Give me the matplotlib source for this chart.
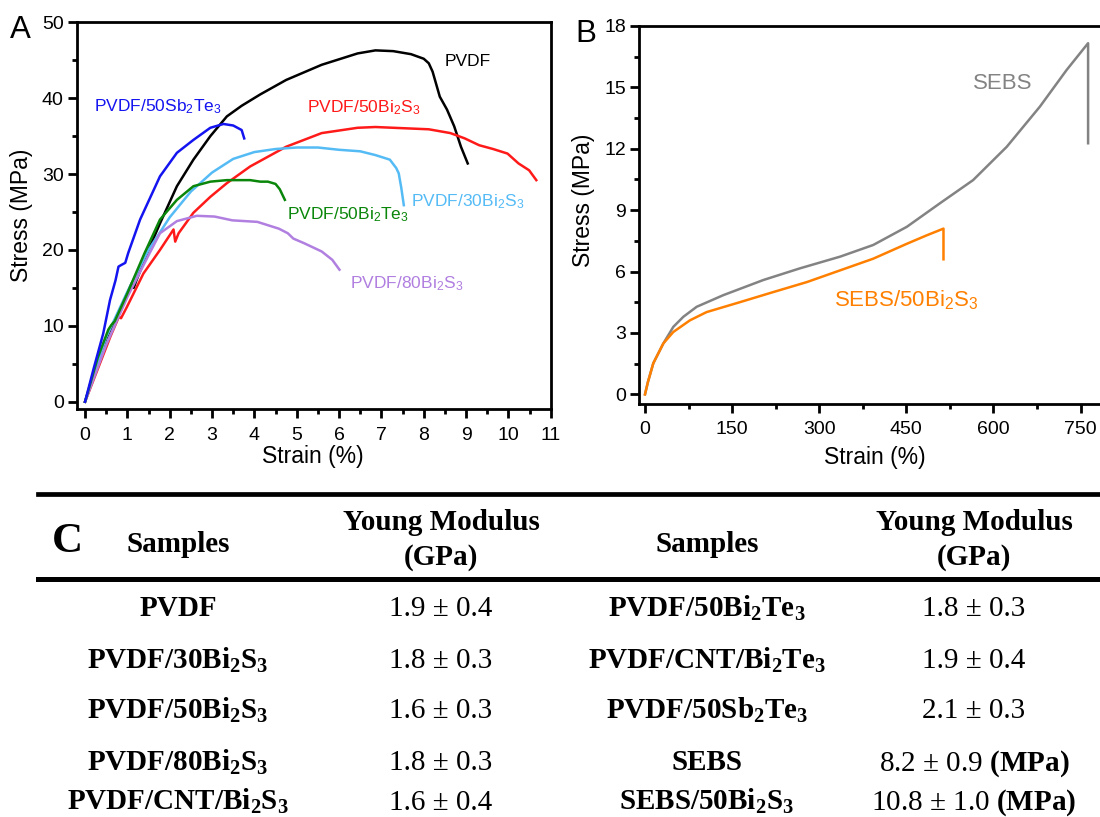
import matplotlib
matplotlib.use('Agg')
import matplotlib.pyplot as plt
from matplotlib.lines import Line2D
from matplotlib.ticker import MultipleLocator

plt.rcParams['font.family'] = 'Liberation Sans'
plt.rcParams['mathtext.fontset'] = 'custom'
plt.rcParams['mathtext.default'] = 'regular'
plt.rcParams['mathtext.rm'] = 'Liberation Sans'
plt.rcParams['mathtext.bf'] = 'Liberation Serif:bold'

# ---- panel A : PVDF composites, stress-strain ----
pvdf_x = [0, 0.5, 1.0, 1.1, 1.15, 1.2, 1.5, 1.77, 2.17, 2.56, 2.96, 3.35, 3.7, 4.14, 4.75, 5.59,
          6.44, 6.86, 7.28, 7.70, 8.0, 8.12, 8.21, 8.38, 8.55, 8.72, 8.88, 9.04]
pvdf_y = [0, 8.3, 14.3, 15.6, 15.0, 15.8, 20.0, 23.5, 28.4, 31.9, 35.0, 37.6, 39.0, 40.5, 42.4, 44.4,
          45.9, 46.3, 46.2, 45.8, 45.2, 44.6, 43.5, 40.2, 38.5, 36.3, 33.6, 31.4]

sbte_x = [0, 0.2, 0.43, 0.59, 0.72, 0.79, 0.85, 0.95, 1.02, 1.3, 1.77, 2.17, 2.56, 2.96, 3.27, 3.5, 3.7, 3.76]
sbte_y = [0, 4.3, 9.0, 13.4, 16.0, 17.8, 18.0, 18.3, 19.6, 24.0, 29.7, 32.8, 34.5, 36.1, 36.6, 36.4, 35.8, 34.7]

bis50_x = [0, 0.3, 0.6, 0.8, 0.85, 0.99, 1.38, 1.77, 2.09, 2.13, 2.21, 2.56, 2.96, 3.35, 3.9, 4.75, 5.59,
           6.44, 6.86, 7.7, 8.12, 8.63, 8.97, 9.31, 9.64, 9.98, 10.24, 10.49, 10.66]
bis50_y = [0, 4.3, 8.6, 11.2, 11.0, 12.5, 16.9, 20.0, 22.7, 21.1, 22.2, 24.9, 27.0, 28.8, 31.0, 33.6, 35.4,
           36.1, 36.2, 36.0, 35.9, 35.4, 34.7, 33.8, 33.3, 32.7, 31.4, 30.5, 29.2]

bis30_x = [0, 0.5, 1.0, 1.5, 2.0, 2.5, 3.0, 3.5, 4.0, 4.5, 5.0, 5.5, 6.0, 6.5, 6.86, 7.2, 7.35, 7.41, 7.47, 7.53]
bis30_y = [0, 8.5, 14.5, 20.0, 24.3, 27.7, 30.2, 32.0, 32.9, 33.3, 33.5, 33.5, 33.2, 33.0, 32.5, 31.9, 30.8, 30.1, 28.2, 25.9]

bite_x = [0, 0.3, 0.55, 0.62, 0.7, 1.0, 1.4, 1.77, 2.17, 2.56, 2.96, 3.35, 3.9, 4.14, 4.32, 4.5, 4.6, 4.72]
bite_y = [0, 5.8, 9.5, 10.1, 10.6, 14.3, 19.5, 24.0, 26.6, 28.4, 29.0, 29.2, 29.2, 29.0, 29.0, 28.7, 28.0, 26.6]

bis80_x = [0, 0.5, 1.0, 1.5, 1.77, 2.17, 2.64, 3.06, 3.48, 4.07, 4.58, 4.79, 4.92, 5.17, 5.59, 5.84, 6.01]
bis80_y = [0, 7.5, 13.8, 19.3, 22.2, 23.8, 24.5, 24.4, 23.9, 23.7, 22.8, 22.2, 21.5, 20.9, 19.8, 18.7, 17.4]

# ---- panel B : SEBS ----
sebs_x = [0, 5, 14.3, 31.6, 48.8, 66, 89, 135, 204, 267, 336, 393, 451, 508, 565, 623, 680, 726, 763, 763]
sebs_y = [0, 0.6, 1.52, 2.49, 3.30, 3.79, 4.28, 4.85, 5.59, 6.16, 6.73, 7.30, 8.19, 9.34, 10.47, 12.10,
          14.06, 15.85, 17.16, 12.27]

sebsbis_x = [0, 5, 14.3, 31.6, 48.8, 77.5, 106, 164, 221, 279, 336, 393, 451, 485, 514, 514]
sebsbis_y = [0, 0.6, 1.52, 2.49, 3.05, 3.62, 4.02, 4.51, 5.0, 5.49, 6.06, 6.63, 7.36, 7.77, 8.1, 6.6]

# ---- table C ----
samples_left = ['PVDF', 'PVDF/30Bi$_2$S$_3$', 'PVDF/50Bi$_2$S$_3$', 'PVDF/80Bi$_2$S$_3$', 'PVDF/CNT/Bi$_2$S$_3$']
mod_left = [1.9, 1.8, 1.6, 1.8, 1.6]
err_left = [0.4, 0.3, 0.3, 0.3, 0.4]
samples_right = ['PVDF/50Bi$_2$Te$_3$', 'PVDF/CNT/Bi$_2$Te$_3$', 'PVDF/50Sb$_2$Te$_3$', 'SEBS', 'SEBS/50Bi$_2$S$_3$']
mod_right = [1.8, 1.9, 2.1, 8.2, 10.8]
err_right = [0.3, 0.4, 0.3, 0.9, 1.0]
unit_right = ['', '', '', 'MPa', 'MPa']

W, H = 1100, 817
fig = plt.figure(figsize=(11, 8.17), dpi=100)

def style(ax):
    for s in ax.spines.values():
        s.set_linewidth(2)
    ax.tick_params(which='both', direction='out', width=2, labelsize=14, top=False, right=False)
    ax.tick_params(which='major', length=6.5, pad=3)
    ax.tick_params(which='minor', length=3.5)
    ax.tick_params(axis='x', which='major', pad=6)

# panel A
axA = fig.add_axes([77 / W, 1 - 409.3 / H, 473.7 / W, 387 / H])
lw = 1.8
axA.plot(pvdf_x, pvdf_y, color='black', lw=lw)
axA.plot(bis50_x, bis50_y, color='#ff1a1a', lw=lw)
axA.plot(bis30_x, bis30_y, color='#55bbf5', lw=lw)
axA.plot(bis80_x, bis80_y, color='#b07fe0', lw=lw)
axA.plot(bite_x, bite_y, color='#0a860a', lw=lw)
axA.plot(sbte_x, sbte_y, color='#1414f0', lw=lw)
axA.set_xlim(-0.19, 11)
axA.set_ylim(-1.0, 50)
axA.xaxis.set_major_locator(MultipleLocator(1))
axA.xaxis.set_minor_locator(MultipleLocator(0.5))
axA.yaxis.set_major_locator(MultipleLocator(10))
axA.yaxis.set_minor_locator(MultipleLocator(5))
style(axA)
axA.set_xlabel('Strain (%)', fontsize=16.5, va='top')
axA.set_ylabel('Stress (MPa)', fontsize=16.5)
axA.xaxis.set_label_coords(0.498, -0.092)
axA.yaxis.set_label_coords(-0.093, 0.502)
lab = 12.5
axA.text(8.5, 44.8, 'PVDF', color='black', fontsize=lab, va='center')
axA.text(0.2, 38.9, 'PVDF/50Sb$_2$Te$_3$', color='#1414f0', fontsize=lab, va='center')
axA.text(5.24, 38.8, 'PVDF/50Bi$_2$S$_3$', color='#ff1a1a', fontsize=lab, va='center')
axA.text(7.70, 26.4, 'PVDF/30Bi$_2$S$_3$', color='#55bbf5', fontsize=lab, va='center')
axA.text(4.76, 24.6, 'PVDF/50Bi$_2$Te$_3$', color='#0a860a', fontsize=lab, va='center')
axA.text(6.25, 15.6, 'PVDF/80Bi$_2$S$_3$', color='#b07fe0', fontsize=lab, va='center')

# panel B
axB = fig.add_axes([639.3 / W, 1 - 404 / H, 464.7 / W, 378 / H])
axB.plot(sebs_x, sebs_y, color='#838383', lw=lw)
axB.plot(sebsbis_x, sebsbis_y, color='#ff8000', lw=lw)
axB.set_xlim(-9.8, 790.4)
axB.set_ylim(-0.47, 18)
axB.xaxis.set_major_locator(MultipleLocator(150))
axB.xaxis.set_minor_locator(MultipleLocator(75))
axB.yaxis.set_major_locator(MultipleLocator(3))
axB.yaxis.set_minor_locator(MultipleLocator(1.5))
style(axB)
axB.set_xlabel('Strain (%)', fontsize=16.5, va='top')
axB.set_ylabel('Stress (MPa)', fontsize=16.5)
axB.xaxis.set_label_coords(0.5066, -0.111)
axB.yaxis.set_label_coords(-0.0964, 0.5376)
axB.text(565, 15.2, 'SEBS', color='#838383', fontsize=16, va='center')
axB.text(325, 4.6, 'SEBS/50Bi$_2$S$_3$', color='#ff8000', fontsize=16, va='center')

fig.text(10 / W, 1 - 38 / H, 'A', fontsize=22.5, va='baseline')
fig.text(575 / W, 1 - 42 / H, 'B', fontsize=22.5, va='baseline')

# table C
serif = 'Liberation Serif'
fig.add_artist(Line2D([38 / W, 1], [1 - 494 / H] * 2, color='black', lw=3.4))
fig.add_artist(Line2D([38 / W, 1], [1 - 579 / H] * 2, color='black', lw=3.6))
fig.text(52 / W, 1 - 552 / H, 'C', fontsize=31, fontweight='bold', family=serif, va='baseline')

col_x = [178, 441, 707, 974]
hsize = 21
for cx in (col_x[0], col_x[2]):
    fig.text(cx / W, 1 - 552 / H, 'Samples', fontsize=hsize, fontweight='bold', family=serif,
             ha='center', va='baseline')
for cx in (col_x[1], col_x[3]):
    fig.text(cx / W, 1 - 530 / H, 'Young Modulus', fontsize=hsize, fontweight='bold', family=serif,
             ha='center', va='baseline')
    fig.text(cx / W, 1 - 565 / H, '(GPa)', fontsize=hsize, fontweight='bold', family=serif,
             ha='center', va='baseline')

row_base = [616.5, 668.5, 718.5, 770.5, 810]
rsize = 21
for i, yb in enumerate(row_base):
    fy = 1 - yb / H
    fig.text(col_x[0] / W, fy, samples_left[i], fontsize=rsize, fontweight='bold', family=serif,
             ha='center', va='baseline')
    fig.text(col_x[1] / W, fy, '%.1f \u00b1 %.1f' % (mod_left[i], err_left[i]), fontsize=rsize,
             family=serif, ha='center', va='baseline')
    fig.text(col_x[2] / W, fy, samples_right[i], fontsize=rsize, fontweight='bold', family=serif,
             ha='center', va='baseline')
    s = '%.1f \u00b1 %.1f' % (mod_right[i], err_right[i])
    if unit_right[i]:
        s += r' $\mathbf{(%s)}$' % unit_right[i]
    fig.text(col_x[3] / W, fy, s, fontsize=rsize, family=serif, ha='center', va='baseline')

fig.savefig('out.png', dpi=100)
